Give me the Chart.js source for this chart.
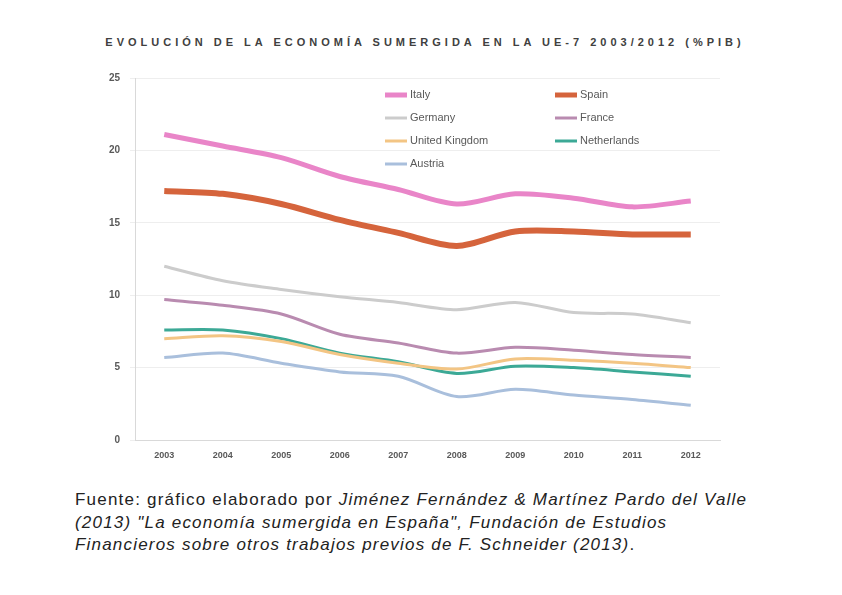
<!DOCTYPE html>
<html>
<head>
<meta charset="utf-8">
<script src="https://cdn.jsdelivr.net/npm/chart.js@4"></script>
<style>
  body { margin: 0; background: #fff; width: 842px; height: 595px; overflow: hidden; position: relative; font-family: "Liberation Sans", Arial, sans-serif; }
  #title { position: absolute; left: 0; width: 850px; top: 36px; text-align: center; font-size: 11px; font-weight: bold; letter-spacing: 4px; color: #404040; }
  #box { position: absolute; left: 0; top: 0; width: 842px; height: 475px; }
  #source { position: absolute; left: 75px; top: 489px; width: 760px; font-size: 17px; letter-spacing: 1.2px; line-height: 22.5px; color: #222; white-space: nowrap; }
</style>
</head>
<body>
<div id="title">EVOLUCIÓN DE LA ECONOMÍA SUMERGIDA EN LA UE-7 2003/2012 (%PIB)</div>
<div id="box"><canvas id="chart"></canvas></div>
<div id="source">Fuente: gráfico elaborado por <i>Jiménez Fernández &amp; Martínez Pardo del Valle</i><br><i>(2013) "La economía sumergida en España", Fundación de Estudios</i><br><i>Financieros sobre otros trabajos previos de F. Schneider (2013)</i>.</div>

<script>
// years on the x axis
const years = ['2003', '2004', '2005', '2006', '2007', '2008', '2009', '2010', '2011', '2012'];

// shadow economy, % of GDP
const italy       = [21.1, 20.3, 19.5, 18.2, 17.3, 16.3, 17.0, 16.7, 16.1, 16.5];
const spain       = [17.2, 17.0, 16.3, 15.2, 14.3, 13.4, 14.4, 14.4, 14.2, 14.2];
const germany     = [12.0, 11.0, 10.4, 9.9, 9.5, 9.0, 9.5, 8.8, 8.7, 8.1];
const france      = [9.7, 9.3, 8.7, 7.3, 6.7, 6.0, 6.4, 6.2, 5.9, 5.7];
const unitedKingdom = [7.0, 7.2, 6.8, 5.9, 5.3, 4.9, 5.6, 5.5, 5.3, 5.0];
const netherlands = [7.6, 7.6, 7.0, 6.0, 5.4, 4.6, 5.1, 5.0, 4.7, 4.4];
const austria     = [5.7, 6.0, 5.3, 4.7, 4.4, 3.0, 3.5, 3.1, 2.8, 2.4];

const yTicks = [0, 5, 10, 15, 20, 25];

function line(label, data, color, width) {
    return {
        label: label,
        data: data,
        borderColor: color,
        backgroundColor: color,
        borderWidth: width,
        pointRadius: 0,
        tension: 0.3,
        fill: false
    };
}

// legend drawn inside the plot, two columns like the original
const insideLegend = {
    id: 'insideLegend',
    afterDraw(chart) {
        const ctx = chart.ctx;
        const cols = [385, 555];
        const rows = [95, 118, 141, 164];
        ctx.save();
        ctx.font = '11px "Liberation Sans", Arial, sans-serif';
        ctx.textBaseline = 'middle';
        chart.data.datasets.forEach(function (ds, i) {
            const x = cols[i % 2];
            const y = rows[Math.floor(i / 2)];
            ctx.strokeStyle = ds.borderColor;
            ctx.lineWidth = Math.min(ds.borderWidth, 5);
            ctx.beginPath();
            ctx.moveTo(x, y);
            ctx.lineTo(x + 22, y);
            ctx.stroke();
            ctx.fillStyle = '#595959';
            ctx.fillText(ds.label, x + 25, y);
        });
        ctx.restore();
    }
};

const ctx = document.getElementById('chart').getContext('2d');
new Chart(ctx, {
    type: 'line',
    data: {
        labels: years,
        datasets: [
            line('Italy', italy, '#e985c8', 5),
            line('Spain', spain, '#d5643c', 6),
            line('Germany', germany, '#cccccc', 3),
            line('France', france, '#b98bb0', 3),
            line('United Kingdom', unitedKingdom, '#f3c584', 3),
            line('Netherlands', netherlands, '#3ca996', 3),
            line('Austria', austria, '#a9bfdc', 3)
        ]
    },
    options: {
        responsive: true,
        maintainAspectRatio: false,
        animation: false,
        layout: { padding: { left: 88, right: 122, top: 78, bottom: 0 } },
        plugins: {
            legend: { display: false },
            title: { display: false },
            tooltip: { enabled: false }
        },
        scales: {
            x: {
                offset: true,
                grid: { display: false, drawTicks: false },
                border: { color: '#d9d9d9' },
                ticks: { color: '#595959', font: { size: 9, weight: 'bold' }, padding: 10 },
                afterFit: function (axis) { axis.height = 35; }
            },
            y: {
                min: 0,
                max: 25,
                afterBuildTicks: function (axis) { axis.ticks = yTicks.map(v => ({ value: v })); },
                grid: { color: '#eeeeee', drawTicks: true, tickLength: 5 },
                border: { color: '#d9d9d9' },
                ticks: { color: '#595959', font: { size: 10, weight: 'bold' }, padding: 10 },
                afterFit: function (axis) { axis.width = 47; }
            }
        }
    },
    plugins: [insideLegend]
});
</script>
</body>
</html>
